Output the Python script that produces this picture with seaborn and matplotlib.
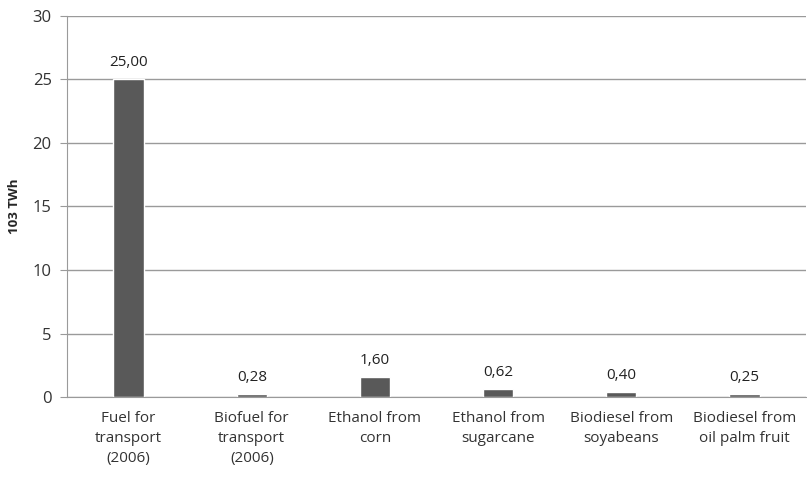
import numpy as np
import pandas as pd
import matplotlib
matplotlib.use("Agg")
import matplotlib.pyplot as plt
import seaborn as sns

# chart data
categories = ["Fuel for\ntransport\n(2006)", "Biofuel for\ntransport\n(2006)",
              "Ethanol from\ncorn", "Ethanol from\nsugarcane",
              "Biodiesel from\nsoyabeans", "Biodiesel from\noil palm fruit"]
values = [25.00, 0.28, 1.60, 0.62, 0.40, 0.25]
labels = ["25,00", "0,28", "1,60", "0,62", "0,40", "0,25"]

df = pd.DataFrame({"category": categories, "value": values})

sns.set_style("white")
plt.rcParams["font.family"] = ["Open Sans", "DejaVu Sans"]

fig = plt.figure(figsize=(8.07, 4.79), dpi=100)
ax = fig.add_axes([0.083, 0.171, 0.916, 0.796])

sns.barplot(x="category", y="value", data=df, color="#595959", saturation=1,
            width=0.245, ax=ax)

# value labels above bars
for i, (v, lab) in enumerate(zip(values, labels)):
    ax.text(i, v + 0.7, lab, ha="center", va="bottom", fontsize=11, color="#222222")

ax.set_ylim(0, 30)
ax.set_yticks(range(0, 31, 5))
ax.set_xlim(-0.5, 5.5)
ax.yaxis.grid(True, color="#9a9a9a", linewidth=1)
ax.set_axisbelow(True)
for s in ["top", "right"]:
    ax.spines[s].set_visible(False)
ax.spines["left"].set_color("#9a9a9a")
ax.spines["bottom"].set_color("#9a9a9a")
ax.tick_params(axis="y", length=5, color="#9a9a9a", labelsize=12, labelcolor="#333333", left=True, pad=6)
ax.tick_params(axis="x", length=0, labelsize=11, labelcolor="#333333", pad=10)
for t in ax.get_xticklabels():
    t.set_linespacing(1.45)
ax.set_xlabel("")
ax.set_ylabel("103 TWh", fontsize=9.5, fontweight="bold", labelpad=8)

fig.savefig("out.png", dpi=100)
